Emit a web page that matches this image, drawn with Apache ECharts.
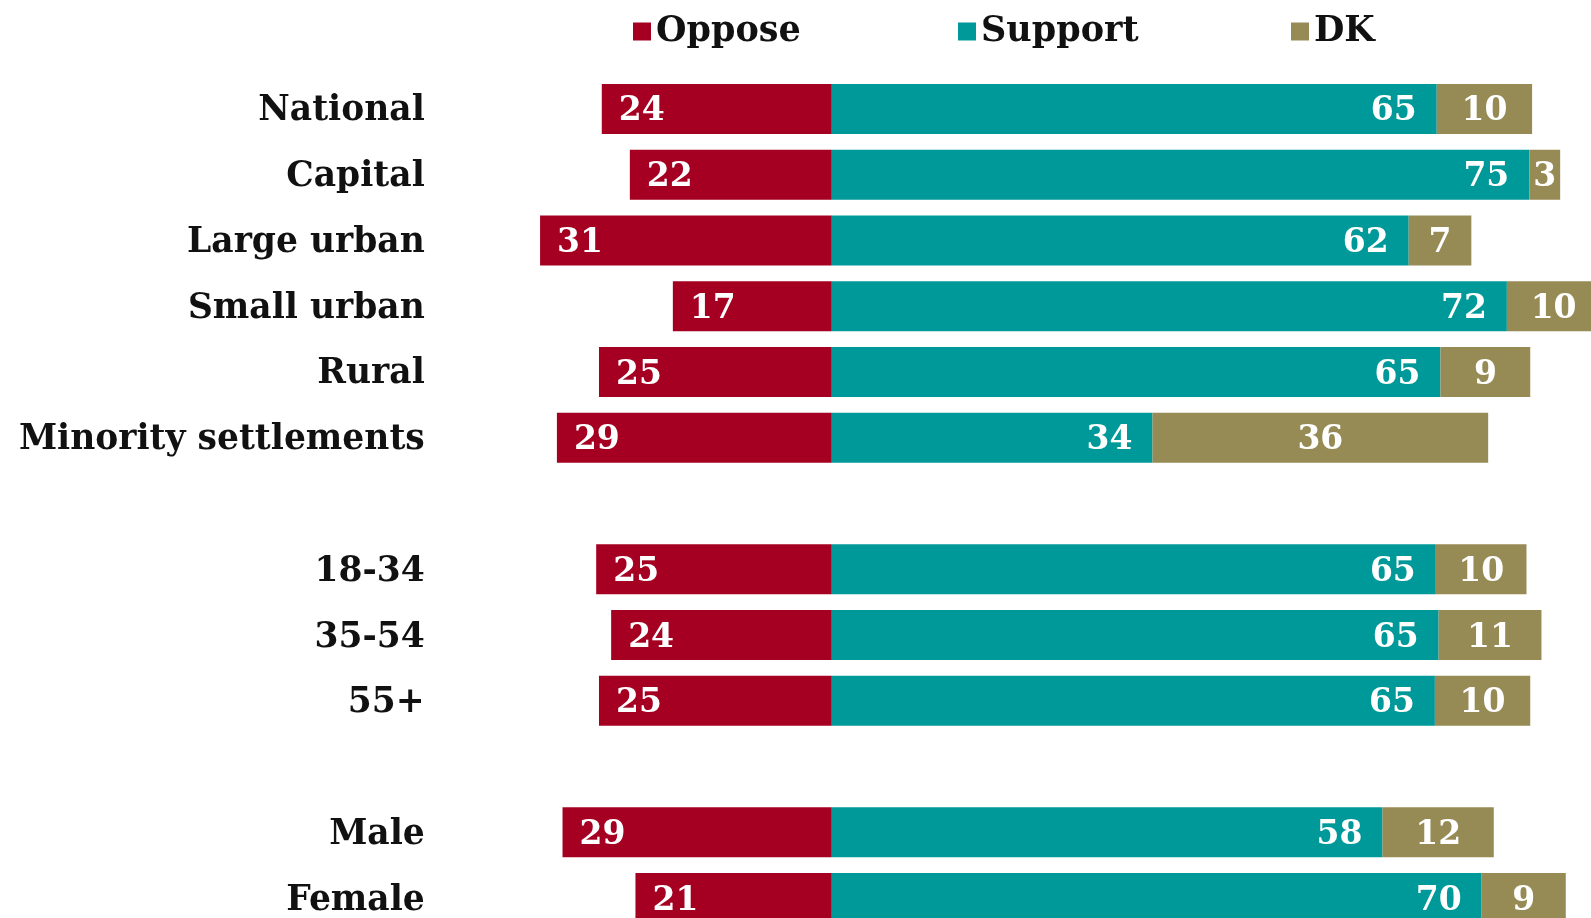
<!DOCTYPE html>
<html>
<head>
<meta charset="utf-8">
<script src="https://cdn.jsdelivr.net/npm/echarts@6/dist/echarts.min.js"></script>
<style>
html,body{margin:0;padding:0;background:#fff;}
#c{width:1591px;height:918px;}
</style>
</head>
<body>
<div id="c"></div>
<script>
// Categories (blank entries are group spacers)
const categories = ['National','Capital','Large urban','Small urban','Rural','Minority settlements',' ','18-34','35-54','55+','  ','Male','Female'];
// Bar lengths
const opposeValues  = [24.6, 21.6, 31.2, 17.0, 24.9, 29.4, null, 25.2, 23.6, 24.9, null, 28.8, 21.0];
const supportValues = [64.7, 74.6, 61.7, 72.2, 65.1, 34.3, null, 64.6, 64.9, 64.5, null, 58.9, 69.5];
const dkValues      = [10.2, 3.3, 6.7, 10.0, 9.6, 35.9, null, 9.7, 11.0, 10.2, null, 11.9, 9.0];
// Printed labels
const opposeLabels  = ['24','22','31','17','25','29','','25','24','25','','29','21'];
const supportLabels = ['65','75','62','72','65','34','','65','65','65','','58','70'];
const dkLabels      = ['10','3','7','10','9','36','','10','11','10','','12','9'];

const FONT = '"DejaVu Serif", serif';
const RED = '#A50021', TEAL = '#009999', OLIVE = '#978B55';

const chart = echarts.init(document.getElementById('c'), null, {renderer:'canvas'});

function lab(arr, pos, dist){
  return {
    show:true, position:pos, distance:dist, offset:[0,3],
    color:'#fff', fontFamily:FONT, fontWeight:'bold', fontSize:33,
    formatter: p => arr[p.dataIndex]
  };
}
function legend(name, left){
  return {
    data:[name], left:left, top:9, icon:'rect', itemWidth:18, itemHeight:18, itemGap:10,
    textStyle:{fontFamily:FONT, fontWeight:'bold', fontSize:35, color:'#111', padding:[0,0,0,0]},
    selectedMode:false
  };
}

chart.setOption({
  animation:false,
  backgroundColor:'#fff',
  legend:[legend('Oppose',628), legend('Support',953), legend('DK',1286)],
  grid:{left:429.75, top:76, width:1589.5, height:855, containLabel:false, outerBoundsMode:'none'},
  xAxis:{type:'value', min:-43, max:127, show:false},
  yAxis:{
    type:'category', data:categories, inverse:true,
    axisLine:{show:false}, axisTick:{show:false}, splitLine:{show:false},
    axisLabel:{
      margin:5, formatter: v => '{c|' + v + '}',
      rich:{c:{fontFamily:FONT, fontWeight:'bold', fontSize:34.5, color:'#111', padding:[5,0,0,0]}}
    }
  },
  series:[
    {name:'Oppose', type:'bar', stack:'s', barWidth:50, itemStyle:{color:RED},
     data: opposeValues.map(v => v == null ? '-' : -v), label:lab(opposeLabels,'insideLeft',17)},
    {name:'Support', type:'bar', stack:'s', barWidth:50, itemStyle:{color:TEAL},
     data: supportValues.map(v => v == null ? '-' : v), label:lab(supportLabels,'insideRight',20)},
    {name:'DK', type:'bar', stack:'s', barWidth:50, itemStyle:{color:OLIVE},
     data: dkValues.map(v => v == null ? '-' : v), label:lab(dkLabels,'inside',0)}
  ]
});
</script>
</body>
</html>
